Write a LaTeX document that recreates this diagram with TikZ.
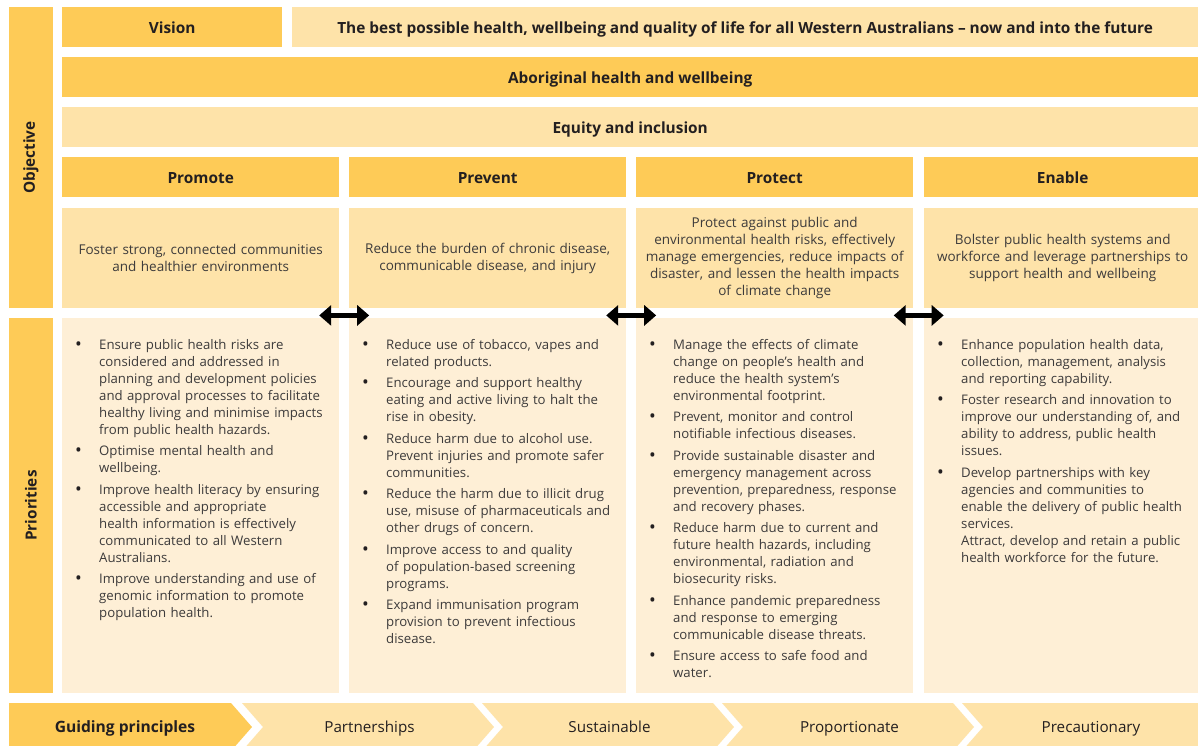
\documentclass[tikz,border=0pt]{standalone}
\usepackage{fontspec}
\setmainfont{Open Sans}
\usepackage{enumitem}
\usetikzlibrary{arrows.meta,calc,positioning}

\definecolor{gold}{HTML}{FECB57}
\definecolor{sand}{HTML}{FEE3A9}
\definecolor{cream}{HTML}{FEEFD6}
\definecolor{ink}{HTML}{231F20}
\definecolor{body}{HTML}{3D3B3B}

\newcommand{\dotmark}{\textcolor{ink}{\raisebox{-1pt}{\fontsize{18}{17}\selectfont\textbullet}}}
\setlist[itemize]{label=\dotmark,align=left,leftmargin=24pt,
  labelindent=0pt,labelwidth=8pt,labelsep=16pt,topsep=0pt,partopsep=0pt,
  parsep=0pt,itemsep=4.5pt}

\tikzset{
  cell/.style={rectangle,anchor=north west,inner sep=0pt,align=center,text=ink},
  headcell/.style={cell,fill=gold,minimum height=40pt,text height=13pt,text depth=0pt,
    font=\fontsize{15.4}{18}\selectfont\bfseries},
  bandcell/.style={cell,fill=sand,minimum height=40pt,text height=13pt,text depth=0pt,
    font=\fontsize{15.4}{18}\selectfont\bfseries},
  desccell/.style={cell,fill=sand,minimum width=277pt,minimum height=100pt,text width=274pt,
    text=body,font=\fontsize{13.5}{17}\selectfont},
  priocell/.style={cell,fill=cream,minimum width=277pt,minimum height=375pt},
  prioitems/.style={anchor=north west,inner sep=0pt,text width=262pt,align=left,
    text=body,font=\fontsize{13.2}{17}\selectfont},
  sidebar/.style={rectangle,fill=gold,inner sep=0pt,minimum height=44pt,rotate=90,
    text=ink,font=\fontsize{15.3}{18}\selectfont\bfseries},
  biarrow/.style={line width=5pt,{Triangle[length=12pt,width=20pt]}-{Triangle[length=12pt,width=20pt]}},
  chevtext/.style={anchor=base,text=ink,font=\fontsize{15.2}{18}\selectfont}
}

\begin{document}
\begin{tikzpicture}[x=1pt,y=-1pt]
\useasboundingbox[fill=white](0,0)rectangle(1198,745);

% side bars
\node[sidebar,minimum width=301pt](objective)at(31,157.5){Objective};
\node[sidebar,minimum width=375pt](priorities)at(31,505.5){Priorities};

% vision and bands
\node[headcell,minimum width=220pt](vision)at(62,7){Vision};
\node[bandcell,minimum width=906pt](visiontext)at(292,7)
  {The best possible health, wellbeing and quality of life for all Western Australians -- now and into the future};
\node[headcell,minimum width=1136pt](aboriginal)at(62,57){Aboriginal health and wellbeing};
\node[bandcell,minimum width=1136pt](equity)at(62,107){Equity and inclusion};

% the four pillars
\node[headcell,minimum width=277pt](promote)at(62,157){Promote};
\node[headcell,minimum width=277pt](prevent)at(349,157){Prevent};
\node[headcell,minimum width=277pt](protect)at(636,157){Protect};
\node[headcell,minimum width=277pt](enable)at(924,157){Enable};

\node[desccell](promdesc)at(62,208){Foster strong, connected communities\\and healthier environments};
\node[desccell](prevdesc)at(349,208){Reduce the burden of chronic disease,\\communicable disease, and injury};
\node[desccell](protdesc)at(636,208){Protect against public and\\environmental health risks, effectively\\
  manage emergencies, reduce impacts of\\disaster, and lessen the health impacts\\of climate change};
\node[desccell](enabdesc)at(924,208){Bolster public health systems and\\workforce and leverage partnerships to\\support health and wellbeing};

\foreach \col/\x in{prom/62,prev/349,prot/636,enab/924}
  \node[priocell](\col prio)at(\x,318){};

\node[prioitems](promlist)at($(promprio.north west)+(13,14)$){%
\begin{itemize}
\item Ensure public health risks are\\considered and addressed in\\planning and development policies\\
  and approval processes to facilitate\\healthy living and minimise impacts\\from public health hazards.
\item Optimise mental health and\\wellbeing.
\item Improve health literacy by ensuring\\accessible and appropriate\\health information is effectively\\
  communicated to all Western\\Australians.
\item Improve understanding and use of\\genomic information to promote\\population health.
\end{itemize}};
\node[prioitems](prevlist)at($(prevprio.north west)+(13,14)$){%
\begin{itemize}
\item Reduce use of tobacco, vapes and\\related products.
\item Encourage and support healthy\\eating and active living to halt the\\rise in obesity.
\item Reduce harm due to alcohol use.\\Prevent injuries and promote safer\\communities.
\item Reduce the harm due to illicit drug\\use, misuse of pharmaceuticals and\\other drugs of concern.
\item Improve access to and quality\\of population-based screening\\programs.
\item Expand immunisation program\\provision to prevent infectious\\disease.
\end{itemize}};
\node[prioitems](protlist)at($(protprio.north west)+(13,14)$){%
\begin{itemize}
\item Manage the effects of climate\\change on people's health and\\reduce the health system's\\environmental footprint.
\item Prevent, monitor and control\\notifiable infectious diseases.
\item Provide sustainable disaster and\\emergency management across\\prevention, preparedness, response\\and recovery phases.
\item Reduce harm due to current and\\future health hazards, including\\environmental, radiation and\\biosecurity risks.
\item Enhance pandemic preparedness\\and response to emerging\\communicable disease threats.
\item Ensure access to safe food and\\water.
\end{itemize}};
\node[prioitems](enablist)at($(enabprio.north west)+(13,14)$){%
\begin{itemize}
\item Enhance population health data,\\collection, management, analysis\\and reporting capability.
\item Foster research and innovation to\\improve our understanding of, and\\ability to address, public health\\issues.
\item Develop partnerships with key\\agencies and communities to\\enable the delivery of public health\\services.\\
  Attract, develop and retain a public\\health workforce for the future.
\end{itemize}};

% links between pillars
\foreach \a/\b in{promdesc/prevdesc,prevdesc/protdesc,protdesc/enabdesc}
  \draw[biarrow]($(\a.south east)!.5!(\b.south west)+(-25,7)$)--($(\a.south east)!.5!(\b.south west)+(25,7)$);

% guiding principles
\fill[gold](9,703)--(231,703)--(252,727)--(231,751)--(9,751)--cycle;
\node[chevtext,font=\fontsize{15.6}{18}\selectfont\bfseries](guiding)at(125,732.5){Guiding principles};
\foreach \l/\r/\nm/\txt in{242/473/partner/Partnerships,482/713/sustain/Sustainable,722/953/proport/Proportionate}{
  \fill[sand](\l,703)--(\r,703)--(\r+21,727)--(\r,751)--(\l,751)--(\l+21,727)--cycle;
  \node[chevtext](\nm)at({(\l+\r)/2+12},732.5){\txt};
}
\fill[sand](962,703)--(1200,703)--(1200,751)--(962,751)--(983,727)--cycle;
\node[chevtext](precaution)at(1091,732.5){Precautionary};
\end{tikzpicture}
\end{document}
